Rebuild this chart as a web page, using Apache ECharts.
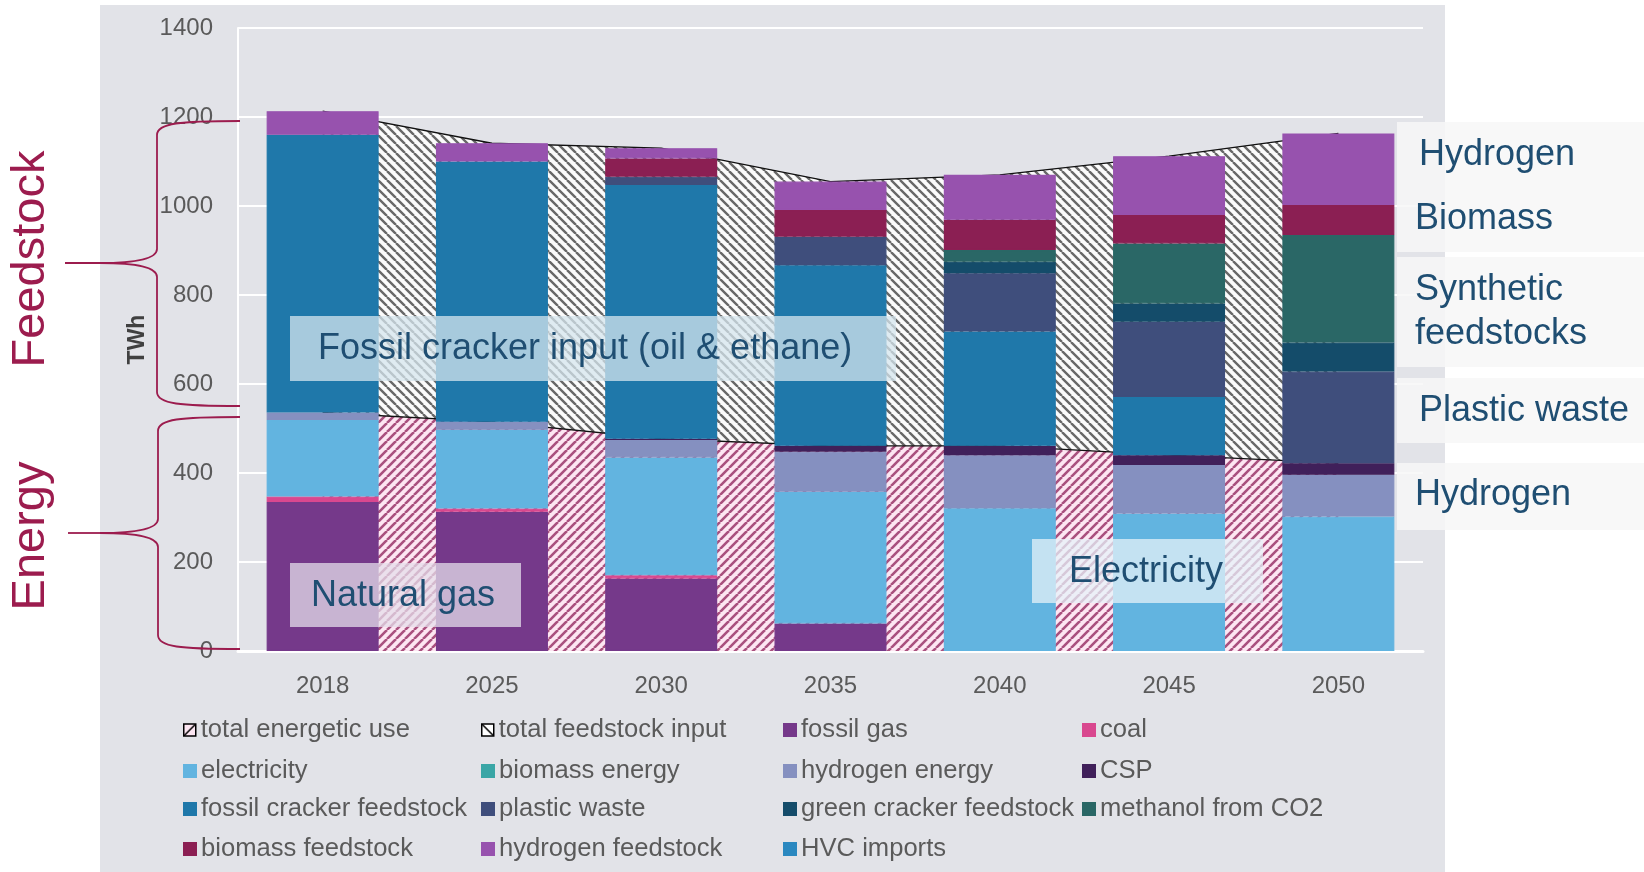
<!DOCTYPE html>
<html><head><meta charset="utf-8">
<script src="https://cdn.jsdelivr.net/npm/echarts@6/dist/echarts.min.js"></script>
<style>html,body{margin:0;padding:0;background:#fff}#c{width:1644px;height:872px}</style>
</head><body><div id="c"></div>
<script>
// ---- data (TWh) ----
const categories = ['2018','2025','2030','2035','2040','2045','2050'];
const totalEnergetic = [536, 515, 477, 461, 461, 440, 422];
const totalFeedstock = [677, 626, 653, 594, 609, 672, 741];
const fossilGas      = [335, 313, 163, 62, 0, 0, 0];
const coal           = [12, 7, 7, 0, 0, 0, 0];
const electricity    = [172, 177, 265, 296, 321, 309, 302];
const biomassEnergy  = [0, 0, 0, 0, 0, 0, 0];
const hydrogenEnergy = [17, 18, 39, 90, 119, 109, 94];
const csp            = [0, 0, 3, 13, 21, 22, 26];
const fossilCracker  = [624, 585, 570, 406, 257, 131, 0];
const hvcImports     = [0, 0, 0, 0, 0, 0, 0];
const plasticWaste   = [0, 0, 19, 64, 131, 169, 206];
const greenCracker   = [0, 0, 0, 0, 26, 41, 65];
const methanolCO2    = [0, 0, 0, 0, 26, 135, 242];
const biomassFeed    = [0, 0, 41, 60, 68, 64, 67];
const hydrogenFeed   = [53, 41, 23, 64, 101, 132, 161];
const yTicks = [0, 200, 400, 600, 800, 1000, 1200, 1400];

const FONT = '"Liberation Sans", Arial, sans-serif';

function hatch(size, dir, bg, fg, lw) {
  const c = document.createElement('canvas');
  c.width = size; c.height = size;
  const g = c.getContext('2d');
  g.fillStyle = bg; g.fillRect(0, 0, size, size);
  g.strokeStyle = fg; g.lineWidth = lw; g.beginPath();
  for (const k of [-size, 0, size]) {
    if (dir === '/') { g.moveTo(k, size); g.lineTo(k + size, 0); }
    else { g.moveTo(k, 0); g.lineTo(k + size, size); }
  }
  g.stroke();
  return { image: c, repeat: 'repeat' };
}
const pinkHatch = hatch(9, '/', '#fde6f2', '#a9507e', 2.6);
const greyHatch = hatch(9, '\\', '#fbfbfb', '#686868', 2.4);
const pinkIcon = hatch(12, '/', '#fde6f2', '#000', 1.5);
const greyIcon = hatch(12, '\\', '#ffffff', '#000', 1.5);

const barDefs = [
  ['fossil gas', fossilGas, '#75398a'],
  ['coal', coal, '#d9488f'],
  ['electricity', electricity, '#62b4e0'],
  ['biomass energy', biomassEnergy, '#3aa6a6'],
  ['hydrogen energy', hydrogenEnergy, '#8590c0'],
  ['CSP', csp, '#40205a'],
  ['fossil cracker feedstock', fossilCracker, '#1f78aa'],
  ['HVC imports', hvcImports, '#2a88c0'],
  ['plastic waste', plasticWaste, '#3f4e7c'],
  ['green cracker feedstock', greenCracker, '#144c6a'],
  ['methanol from CO2', methanolCO2, '#2a6766'],
  ['biomass feedstock', biomassFeed, '#8b1f53'],
  ['hydrogen feedstock', hydrogenFeed, '#9752ae']
];

const series = [
  { name: 'total energetic use', type: 'line', stack: 'tot', data: totalEnergetic,
    symbol: 'none', z: 1, itemStyle: { color: '#111' },
    lineStyle: { color: '#111', width: 1.3 }, areaStyle: { color: pinkHatch, opacity: 1 } },
  { name: 'total feedstock input', type: 'line', stack: 'tot', data: totalFeedstock,
    symbol: 'none', z: 1, itemStyle: { color: '#111' },
    lineStyle: { color: '#111', width: 1.3 }, areaStyle: { color: greyHatch, opacity: 1 } }
];
barDefs.forEach(([name, data, color]) => {
  // zero segments are left empty so no hairline border is drawn for them
  series.push({ name, type: 'bar', stack: 'bars', data: data.map(v => (v === 0 ? '-' : v)), barWidth: 112, z: 3,
    itemStyle: { color, borderColor: color, borderWidth: 1.2 }, emphasis: { disabled: true } });
});

const legendRows = [
  ['total energetic use', 'total feedstock input', 'fossil gas', 'coal'],
  ['electricity', 'biomass energy', 'hydrogen energy', 'CSP'],
  ['fossil cracker feedstock', 'plastic waste', 'green cracker feedstock', 'methanol from CO2'],
  ['biomass feedstock', 'hydrogen feedstock', 'HVC imports']
];
const colLeft = [183, 481, 783, 1082];
const rowCenter = [730, 771, 809, 849];
const legends = [];
legendRows.forEach((row, r) => row.forEach((name, c) => {
  const item = { name, icon: 'rect' };
  if (name === 'total energetic use') item.itemStyle = { color: pinkIcon, borderColor: '#000', borderWidth: 1.5 };
  if (name === 'total feedstock input') item.itemStyle = { color: greyIcon, borderColor: '#000', borderWidth: 1.5 };
  legends.push({ data: [item], left: colLeft[c], top: rowCenter[r] - 14, padding: 0,
    itemWidth: 12, itemHeight: 12, itemGap: 0, selectedMode: false,
    textStyle: { fontSize: 25.6, color: '#5a5a5a', fontFamily: FONT, lineHeight: 28 } });
}));

const CRIMSON = '#9c1c4e';
const NAVY = '#1f4e72';
function box(x, y, w, h, fill, z) { return { type: 'rect', z: z || 50, shape: { x, y, width: w, height: h }, style: { fill } }; }
function txt(x, y, s, size, color, extra) {
  return Object.assign({ type: 'text', x, y, z: 60,
    style: { text: s, fontSize: size, fontFamily: FONT, fill: color, align: 'left', verticalAlign: 'middle',
      textAlign: 'left', textVerticalAlign: 'middle' } }, extra || {});
}
function bez(x1, y1, c1x, c1y, c2x, c2y, x2, y2) {
  return { type: 'bezierCurve', z: 60, shape: { x1, y1, cpx1: c1x, cpy1: c1y, cpx2: c2x, cpy2: c2y, x2, y2 },
    style: { stroke: CRIMSON, lineWidth: 1.8, fill: null } };
}
function ln(x1, y1, x2, y2) {
  return { type: 'line', z: 60, shape: { x1, y1, x2, y2 }, style: { stroke: CRIMSON, lineWidth: 1.8 } };
}
function brace(top, bot, tip, vx, tipX) {
  return [
    bez(240, top, 180, top, vx, top + 2, vx, top + 14),
    ln(vx, top + 14, vx, tip - 14),
    bez(vx, tip - 14, vx, tip - 3, 130, tip, 100, tip),
    ln(100, tip, tipX, tip),
    bez(100, tip, 130, tip, vx, tip + 3, vx, tip + 14),
    ln(vx, tip + 14, vx, bot - 14),
    bez(vx, bot - 14, vx, bot - 2, 180, bot, 240, bot)
  ];
}

const graphics = [
  { type: 'rect', z: -10, shape: { x: 100, y: 5, width: 1345, height: 867 }, style: { fill: '#e2e3e8' } },
  box(290, 316, 606, 65, 'rgba(214,229,237,0.75)'),
  txt(318, 349, 'Fossil cracker input (oil & ethane)', 36, NAVY),
  box(290, 563, 231, 64, 'rgba(228,221,234,0.75)'),
  txt(311, 596, 'Natural gas', 36, NAVY),
  box(1032, 539, 231, 64, 'rgba(230,241,248,0.75)'),
  txt(1069, 572, 'Electricity', 36, NAVY),
  box(1397, 122, 247, 78, 'rgba(247,247,247,0.85)'),
  box(1397, 200, 247, 52, 'rgba(247,247,247,0.85)'),
  box(1397, 257, 247, 110, 'rgba(247,247,247,0.85)'),
  box(1397, 378, 247, 65, 'rgba(247,247,247,0.85)'),
  box(1397, 463, 247, 67, 'rgba(247,247,247,0.85)'),
  txt(1419, 155, 'Hydrogen', 36, NAVY),
  txt(1415, 219, 'Biomass', 36, NAVY),
  txt(1415, 290, 'Synthetic', 36, NAVY),
  txt(1415, 334, 'feedstocks', 36, NAVY),
  txt(1419, 411, 'Plastic waste', 36, NAVY),
  txt(1415, 495, 'Hydrogen', 36, NAVY),
  ...brace(121, 406, 263, 157, 65),
  ...brace(417, 649, 533, 158, 68),
  txt(31, 259, 'Feedstock', 47, CRIMSON, { rotation: Math.PI / 2,
    style: { text: 'Feedstock', fontSize: 47, fontFamily: FONT, fill: CRIMSON, align: 'center', verticalAlign: 'middle', textAlign: 'center', textVerticalAlign: 'middle' } }),
  txt(31, 536, 'Energy', 47, CRIMSON, { rotation: Math.PI / 2,
    style: { text: 'Energy', fontSize: 47, fontFamily: FONT, fill: CRIMSON, align: 'center', verticalAlign: 'middle', textAlign: 'center', textVerticalAlign: 'middle' } })
];

const chart = echarts.init(document.getElementById('c'), null, { renderer: 'canvas' });
chart.setOption({
  animation: false,
  backgroundColor: '#ffffff',
  textStyle: { fontFamily: FONT },
  grid: { left: 238, right: 221, top: 28, bottom: 221, containLabel: false },
  xAxis: {
    type: 'category', data: categories, boundaryGap: true,
    axisLine: { show: true, lineStyle: { color: '#ffffff', width: 3 } },
    axisTick: { show: false },
    axisLabel: { fontSize: 24, color: '#5a5a5a', margin: 23, fontFamily: FONT },
    splitLine: { show: false }
  },
  yAxis: {
    type: 'value', min: yTicks[0], max: yTicks[yTicks.length - 1], interval: 200,
    name: 'TWh', nameLocation: 'middle', nameRotate: 90, nameGap: 85,
    nameTextStyle: { fontSize: 23, fontWeight: 'bold', color: '#404040', fontFamily: FONT },
    axisLine: { show: true, lineStyle: { color: '#ffffff', width: 2 } },
    axisTick: { show: false },
    axisLabel: { fontSize: 24, color: '#5a5a5a', margin: 25, fontFamily: FONT, formatter: v => String(v) },
    splitLine: { show: true, lineStyle: { color: '#ffffff', width: 2 } }
  },
  legend: legends,
  series,
  graphic: { elements: graphics }
});
</script></body></html>
